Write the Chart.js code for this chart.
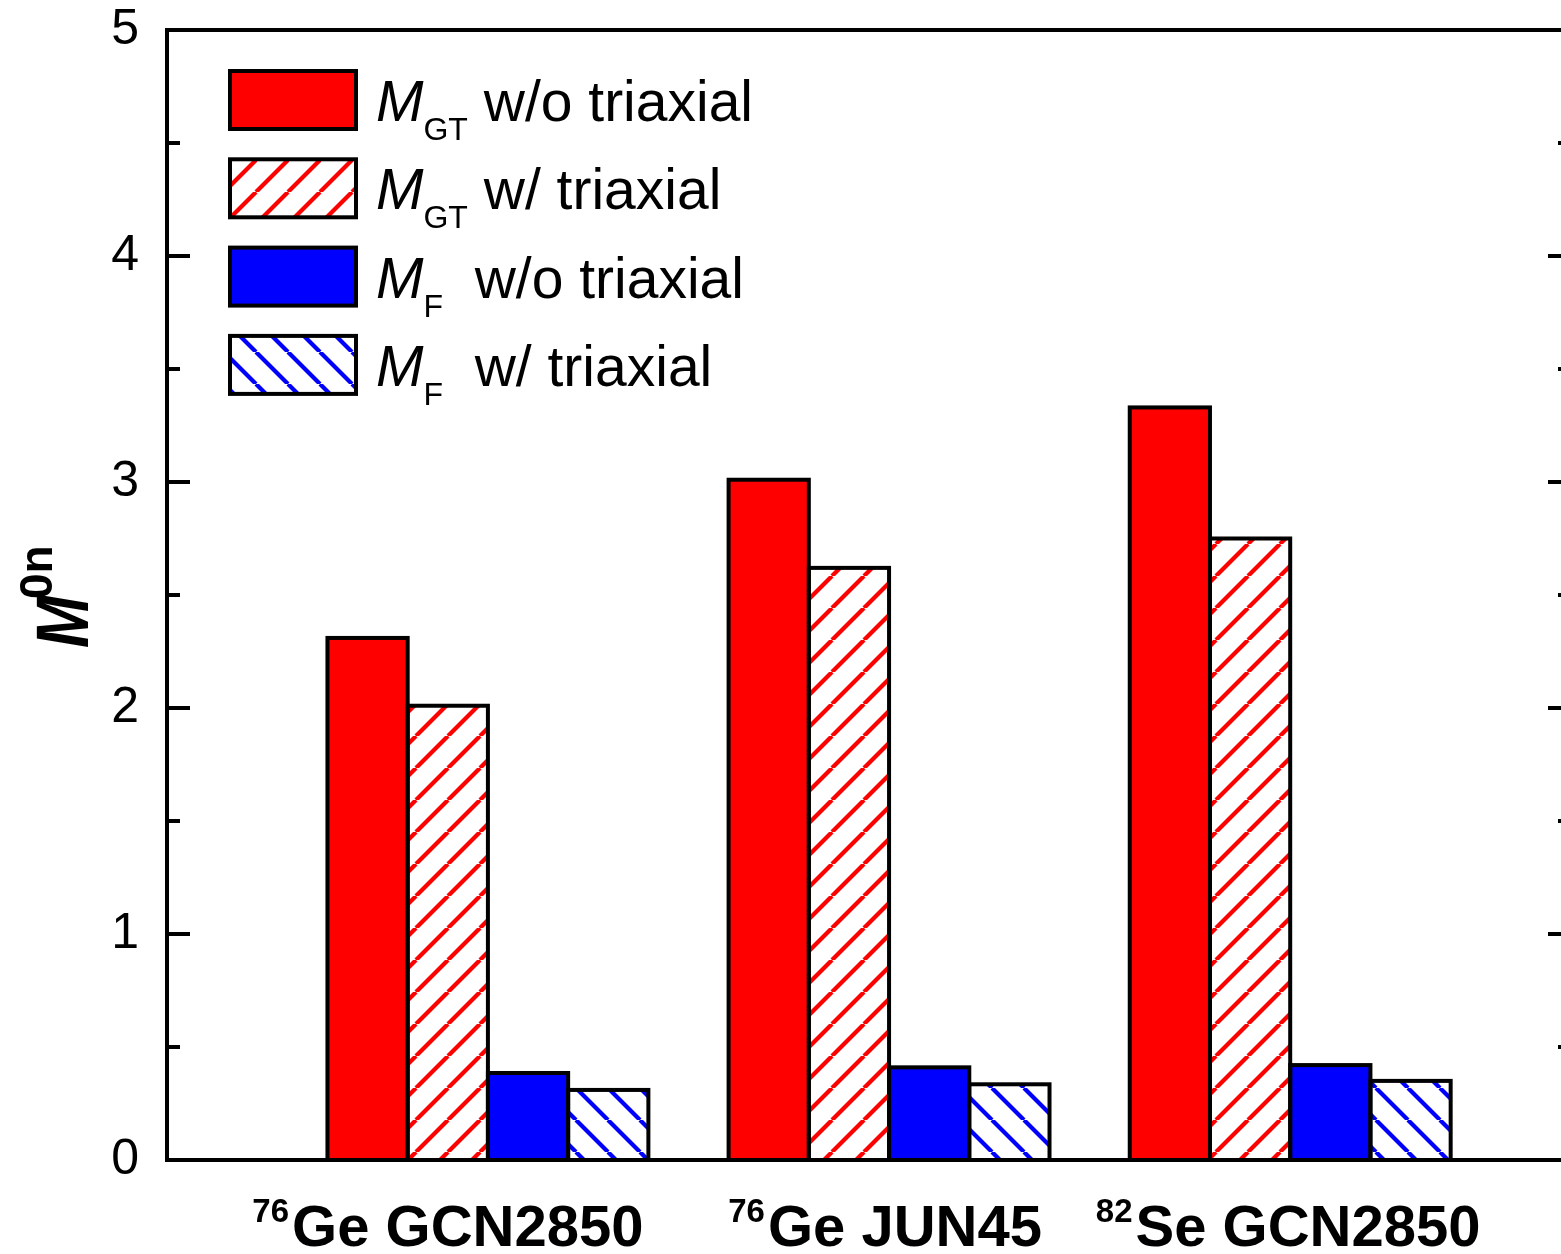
<!DOCTYPE html>
<html><head><meta charset="utf-8">
<script src="https://cdn.jsdelivr.net/npm/chart.js@4"></script>
<style>html,body{margin:0;padding:0;background:#fff;overflow:hidden;} #wrap{width:1600px;height:1254px;}</style>
</head><body><div id="wrap"><canvas id="c" width="1600" height="1254"></canvas></div>
<script>
// ---------- data ----------
const categories = [1, 2, 3];
const categoryMass = ['76', '76', '82'];
const categoryNames = ['Ge GCN2850', 'Ge JUN45', 'Se GCN2850'];
const seriesSymbol = ['M', 'M', 'M', 'M'];
const seriesSub = ['GT', 'GT', 'F', 'F'];
const seriesDesc = [' w/o triaxial', ' w/ triaxial', '  w/o triaxial', '  w/ triaxial'];
const mGTwithout = [2.31, 3.01, 3.33];
const mGTwith = [2.01, 2.62, 2.75];
const mFwithout = [0.385, 0.41, 0.42];
const mFwith = [0.31, 0.335, 0.35];
const yTickValues = [0, 1, 2, 3, 4, 5];
const yTitleMain = 'M';
const yTitleSup = '0n';

// ---------- styles ----------
const FAM = '"Liberation Sans", Arial, sans-serif';
const canvas = document.getElementById('c');
const mainCtx = canvas.getContext('2d');
function hatch(color, dir) {
  const s = 32, t = document.createElement('canvas');
  t.width = s; t.height = s;
  const g = t.getContext('2d');
  g.fillStyle = '#fff'; g.fillRect(0, 0, s, s);
  g.strokeStyle = color; g.lineWidth = 4.2;
  for (let k = -1; k <= 1; k++) {
    g.beginPath();
    if (dir > 0) { g.moveTo(k * s, s); g.lineTo(k * s + s, 0); }
    else { g.moveTo(k * s, 0); g.lineTo(k * s + s, s); }
    g.stroke();
  }
  return mainCtx.createPattern(t, 'repeat');
}
const fills = ['#ff0000', hatch('#ff0000', 1), '#0000ff', hatch('#0000ff', -1)];
const seriesValues = [mGTwithout, mGTwith, mFwithout, mFwith];
const labelShift = [-40, -4, -2];

const datasets = seriesValues.map((vals, si) => ({
  label: seriesSymbol[si] + seriesSub[si] + seriesDesc[si],
  data: categories.map((c, i) => ({ x: c, y: vals[i] })),
  backgroundColor: fills[si],
  borderWidth: 0,
  barPercentage: 1.0,
  categoryPercentage: 0.8
}));

const drawPlugin = {
  id: 'custom',
  afterDatasetsDraw(chart) {
    const ctx = chart.ctx;
    const ca = chart.chartArea;
    ctx.save();
    // bar outlines
    ctx.strokeStyle = '#000'; ctx.lineWidth = 4; ctx.lineJoin = 'miter';
    chart.data.datasets.forEach((ds, di) => {
      chart.getDatasetMeta(di).data.forEach(el => {
        const p = el.getProps(['x', 'y', 'base', 'width'], true);
        ctx.strokeRect(p.x - p.width / 2, p.y, p.width, p.base - p.y);
      });
    });
    // frame
    ctx.lineWidth = 4;
    ctx.strokeRect(ca.left, ca.top, ca.right - ca.left, ca.bottom - ca.top);
    // ticks (inward), left & right
    const ys = chart.scales.y;
    for (let v = 0.5; v < 5; v += 0.5) {
      const py = ys.getPixelForValue(v);
      const major = Math.abs(v - Math.round(v)) < 1e-6;
      const len = major ? 23 : 13;
      ctx.beginPath();
      ctx.moveTo(ca.left, py); ctx.lineTo(ca.left + len, py);
      ctx.moveTo(ca.right, py); ctx.lineTo(ca.right - len, py);
      ctx.stroke();
    }
    // x category labels with superscripts
    const xs = chart.scales.x;
    ctx.fillStyle = '#000'; ctx.textBaseline = 'alphabetic'; ctx.textAlign = 'left';
    categories.forEach((c, i) => {
      const cx = xs.getPixelForValue(c) + labelShift[i];
      ctx.font = 'bold 33px ' + FAM;
      const w1 = ctx.measureText(categoryMass[i]).width;
      ctx.font = 'bold 58px ' + FAM;
      const w2 = ctx.measureText(categoryNames[i]).width;
      const gap = 3;
      const x0 = cx - (w1 + gap + w2) / 2;
      ctx.font = 'bold 33px ' + FAM;
      ctx.fillText(categoryMass[i], x0, 1222);
      ctx.font = 'bold 58px ' + FAM;
      ctx.fillText(categoryNames[i], x0 + w1 + gap, 1246);
    });
    // y title
    ctx.save();
    ctx.translate(88, 648);
    ctx.rotate(-Math.PI / 2);
    ctx.save();
    ctx.scale(0.85, 1);
    ctx.font = 'italic bold 74px ' + FAM;
    ctx.fillText(yTitleMain, 0, 0);
    ctx.restore();
    ctx.font = 'bold 46px ' + FAM;
    ctx.fillText(yTitleSup, 49, -36);
    ctx.restore();
    // legend
    const step = 88.3;
    for (let i = 0; i < 4; i++) {
      const by = 71 + i * step;
      ctx.fillStyle = fills[i];
      ctx.fillRect(230, by, 126, 58);
      ctx.strokeStyle = '#000'; ctx.lineWidth = 4;
      ctx.strokeRect(230, by, 126, 58);
      ctx.fillStyle = '#000';
      const base = 121 + i * step;
      ctx.font = 'italic 57px ' + FAM;
      ctx.fillText(seriesSymbol[i], 376, base);
      let x = 376 + ctx.measureText(seriesSymbol[i]).width;
      ctx.font = '32px ' + FAM;
      ctx.fillText(seriesSub[i], x, base + 19);
      x += ctx.measureText(seriesSub[i]).width;
      ctx.font = '57px ' + FAM;
      ctx.fillText(seriesDesc[i], x, base);
    }
    ctx.restore();
  }
};

new Chart(canvas, {
  type: 'bar',
  data: { datasets },
  options: {
    responsive: false,
    animation: false,
    layout: { padding: { top: 30, right: 29, left: 0, bottom: 0 } },
    plugins: { legend: { display: false }, tooltip: { enabled: false } },
    scales: {
      x: {
        type: 'linear', min: 0.2, max: 3.7, offset: false,
        afterBuildTicks(s) { s.ticks = categories.map(v => ({ value: v })); },
        grid: { display: false }, border: { display: false },
        ticks: { display: false },
        afterFit(s) { s.height = 94; s.paddingLeft = 0; s.paddingRight = 0; }
      },
      y: {
        min: 0, max: 5,
        afterBuildTicks(s) { s.ticks = yTickValues.map(v => ({ value: v })); },
        ticks: { font: { size: 50, family: FAM }, color: '#000', padding: 20 },
        grid: { display: false }, border: { display: false },
        afterFit(s) { s.width = 167; s.paddingTop = 0; s.paddingBottom = 0; }
      }
    }
  },
  plugins: [drawPlugin]
});
</script>
</body></html>
